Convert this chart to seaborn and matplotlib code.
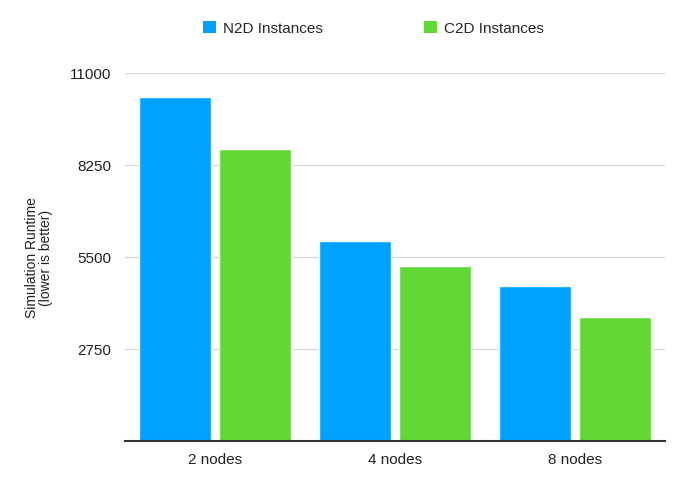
import matplotlib
matplotlib.use("Agg")
import matplotlib.pyplot as plt
import seaborn as sns
import pandas as pd
from matplotlib.patches import Patch

categories = ["2 nodes", "4 nodes", "8 nodes"]
series_names = ["N2D Instances", "C2D Instances"]
n2d_values = [10280, 5980, 4630]
c2d_values = [8730, 5230, 3710]
y_ticks = [2750, 5500, 8250, 11000]
colors = ["#00A2FF", "#61D836"]

df = pd.DataFrame({
    "nodes": categories * 2,
    "series": [series_names[0]] * 3 + [series_names[1]] * 3,
    "runtime": n2d_values + c2d_values,
})

sns.set_theme(style="white")
plt.rcParams["font.family"] = ["Liberation Sans", "DejaVu Sans"]

fig = plt.figure(figsize=(6.8, 4.81), dpi=100)
ax = fig.add_axes([125/680, 39/481, 540/680, 368/481])

sns.barplot(data=df, x="nodes", y="runtime", hue="series", order=categories,
            hue_order=series_names, palette=colors, width=0.88, gap=0.09,
            saturation=1, ax=ax, legend=False)

ax.set_xlim(-0.5, 2.5)
ax.set_ylim(0, 11000)
ax.set_yticks(y_ticks)
ax.set_yticklabels([str(v) for v in y_ticks], fontsize=11, color="#222222")
ax.tick_params(axis="y", length=0, pad=10)
ax.tick_params(axis="x", length=0, pad=8, labelsize=11, labelcolor="#222222")
ax.yaxis.grid(True, color="#d9d9d9", linewidth=1)
ax.set_axisbelow(True)
for s in ["top", "right", "left"]:
    ax.spines[s].set_visible(False)
ax.spines["bottom"].set_color("#333333")
ax.spines["bottom"].set_linewidth(1.5)
ax.set_xlabel("")
ax.set_ylabel("Simulation Runtime\n(lower is better)", fontsize=10, color="#222222",
              labelpad=12, linespacing=1.0)

handles = [Patch(facecolor=c, edgecolor="none") for c in colors]
fig.legend(handles, series_names, loc="center", bbox_to_anchor=(0.549, 0.94), ncol=2,
           frameon=False, fontsize=11, handlelength=0.85, handleheight=0.85,
           columnspacing=6.6, handletextpad=0.45)

fig.savefig("out.png", dpi=100, facecolor="white")
